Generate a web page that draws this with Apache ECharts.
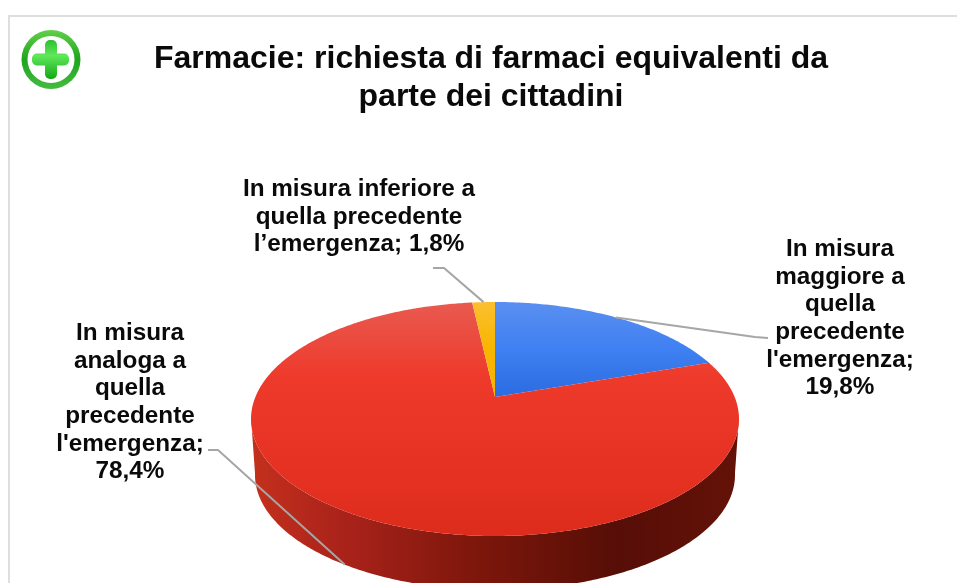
<!DOCTYPE html>
<html><head><meta charset="utf-8">
<style>html,body{margin:0;padding:0;background:#fff}#c{width:957px;height:583px;filter:blur(0.5px)}</style>
<script src="https://cdn.jsdelivr.net/npm/echarts@6/dist/echarts.min.js"></script>
</head><body><div id="c"></div>
<script>
var titleText = 'Farmacie: richiesta di farmaci equivalenti da\nparte dei cittadini';
var categories = ['In misura maggiore a quella precedente l\'emergenza','In misura analoga a quella precedente l\'emergenza','In misura inferiore a quella precedente l’emergenza'];
var labelNames = ['In misura\nmaggiore a\nquella\nprecedente\nl\'emergenza;','In misura\nanaloga a\nquella\nprecedente\nl\'emergenza;','In misura inferiore a\nquella precedente\nl’emergenza;'];
var values = [19.8,78.4,1.8];

var chart = echarts.init(document.getElementById('c'),null,{renderer:'canvas'});
var G = echarts.graphic;
var geo = {cx:495,cy:419,rx:244,ry:117,a:0.188,bcy:475,brx:240,bry:115};
var labelPos = [[840,318.5],[130,402.5],[359,217]];
var labelElbow = [[[755,337],[768,338]],[[218,450],[208,450]],[[444,268],[433,268]]];
var topFills = [
  [[0,'#5a8ff0'],[.2,'#3f80f2'],[.41,'#2a6be0'],[1,'#2a6be0']],
  [[0,'#e95a50'],[.32,'#ee3a2b'],[.7,'#e63222'],[1,'#dd2c1c']],
  [[0,'#fbbf30'],[.2,'#f8b500'],[1,'#f8b500']]
];
var sideStops = [[0,'#c4301d'],[.2,'#a8221a'],[.45,'#7f170c'],[.75,'#560e06'],[1,'#641208']];
var total = values.reduce(function(s,v){return s+v;},0);

function rim(t){ // slice angle (radians clockwise from the back) to normalised ellipse point, with perspective
  var u=Math.sin(t),v=Math.cos(t),d=1+geo.a*v,k=Math.sqrt(1-geo.a*geo.a);
  return [u*k/d,(v+geo.a)/d];
}
function topPt(n){return [geo.cx+n[0]*geo.rx,geo.cy-n[1]*geo.ry];}
function botPt(n){return [geo.cx+n[0]*geo.brx,geo.bcy-n[1]*geo.bry];}

function renderItem(params,api){
  var i=params.dataIndex, val=api.value(0), start=0;
  for(var j=0;j<i;j++) start+=values[j];
  var t0=start/total*2*Math.PI, t1=(start+val)/total*2*Math.PI;
  var N=Math.max(4,Math.round((t1-t0)*90)), apex=[geo.cx,geo.cy-geo.a*geo.ry];
  var arc=[], front=[];
  for(var s=0;s<=N;s++){
    var n=rim(t0+(t1-t0)*s/N);
    arc.push(topPt(n));
    if(n[1]<=0.02) front.push(n);
  }
  var kids=[];
  if(front.length>1){
    var side=front.map(topPt).concat(front.slice().reverse().map(botPt));
    kids.push({type:'polygon',shape:{points:side},style:{fill:new G.LinearGradient(geo.cx-geo.rx,0,geo.cx+geo.rx,0,sideStops.map(function(c){return {offset:c[0],color:c[1]};}),true)}});
  }
  kids.push({type:'polygon',shape:{points:[apex].concat(arc)},style:{fill:new G.LinearGradient(0,geo.cy-geo.ry,0,geo.cy+geo.ry,topFills[i].map(function(c){return {offset:c[0],color:c[1]};}),true)}});
  return {type:'group',children:kids};
}
function renderLabels(params,api){
  var i=params.dataIndex, val=api.value(0), start=0;
  for(var j=0;j<i;j++) start+=values[j];
  var tm=(start+val/2)/total*2*Math.PI, n=rim(tm);
  var anchor=n[1]<0?botPt(n):topPt(n);
  return {type:'group',children:[
    {type:'polyline',shape:{points:[anchor].concat(labelElbow[i])},style:{fill:null,stroke:'#a6a6a6',lineWidth:2}},
    {type:'text',style:{x:labelPos[i][0],y:labelPos[i][1],text:labelNames[i]+(i==2?' ':'\n')+String(val).replace('.',',')+'%',
      align:'center',verticalAlign:'middle',fill:'#0a0a0a',font:'bold 24.3px "Liberation Sans", Arial, sans-serif',lineHeight:27.6}}
  ]};
}
var seriesData = values.map(function(v,i){return {name:categories[i],value:[v,i]};});
var crossFill = new G.LinearGradient(0,40,0,79,[{offset:0,color:'#2cc02c'},{offset:.4,color:'#5fe85a'},{offset:1,color:'#14a814'}],true);
chart.setOption({
  animation:false,
  backgroundColor:'#fff',
  title:{text:titleText,left:486,top:35,textAlign:'center',textStyle:{fontFamily:'"Liberation Sans", Arial, sans-serif',fontWeight:'bold',fontSize:32,lineHeight:38,color:'#0a0a0a'}},
  xAxis:{show:false,min:0,max:1},yAxis:{show:false,min:0,max:1},
  grid:{left:0,right:0,top:0,bottom:0},
  graphic:[
    {type:'polyline',silent:true,shape:{points:[[9,583],[9,16],[957,16]]},style:{fill:null,stroke:'#dedede',lineWidth:2}},
    {type:'circle',shape:{cx:51,cy:59.5,r:29.5},style:{fill:new G.LinearGradient(0,0,0,1,[{offset:0,color:'#62cf4a'},{offset:.5,color:'#1fa51f'},{offset:1,color:'#45bb40'}])}},
    {type:'circle',shape:{cx:51,cy:59.5,r:23.5},style:{fill:'#fff'}},
    {type:'rect',shape:{x:32,y:53.5,width:37,height:12,r:5},style:{fill:crossFill}},
    {type:'rect',shape:{x:45,y:40,width:12,height:39,r:5},style:{fill:crossFill}}
  ],
  series:[
    {type:'custom',coordinateSystem:'none',renderItem:renderItem,data:seriesData,encode:{value:0},clip:false,silent:true},
    {type:'custom',coordinateSystem:'none',renderItem:renderLabels,data:seriesData,encode:{value:0},clip:false,silent:true,z:5}
  ]
});
</script></body></html>
